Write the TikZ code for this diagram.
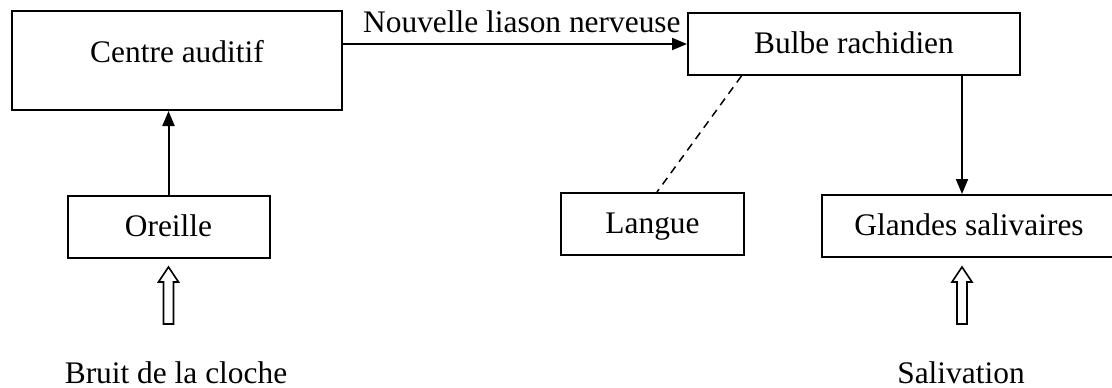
\documentclass[tikz,border=0pt]{standalone}
\usepackage{fontspec}
\setmainfont{Liberation Serif}
\usepackage{tikz}
\usetikzlibrary{arrows.meta,calc,positioning}

% hollow upward arrow, tip at #1
\newcommand{\hollowup}[1]{%
  \draw[hollow] (#1) -- ++(5pt,-7.5pt) -- ++(-2.5pt,0) -- ++(0,-21pt)
    -- ++(-5pt,0) -- ++(0,21pt) -- ++(-2.5pt,0) -- cycle;}

\begin{document}
\begin{tikzpicture}[
  x=0.5pt,y=-0.5pt,
  font=\fontsize{15.7}{19}\selectfont,
  box/.style={draw,line width=1pt,inner sep=0pt,minimum height=31pt,text height=11pt,text depth=2pt},
  txt/.style={inner sep=0pt,anchor=base},
  arrow/.style={-{Triangle[length=7.5pt,width=6pt]},line width=1pt},
  link/.style={dashed,line width=0.75pt,dash pattern=on 4pt off 3pt},
  hollow/.style={draw,fill=white,line width=0.8pt}
]
\useasboundingbox (0,0) rectangle (1112,387);
\node[box,minimum width=165pt,minimum height=49.5pt,text height=25.5pt,text depth=24pt] (centre) at (177,60.5) {Centre auditif};
\node[box,minimum width=101pt] (oreille) at (168.5,227) {Oreille};
\node[box,minimum width=166pt] (bulbe) at (854,44) {Bulbe rachidien};
\node[box,minimum width=91.5pt] (langue) at (652.5,224) {Langue};
\node[box,minimum width=147pt] (glandes) at (969,226) {Glandes salivaires};
\node[txt] (bruit) at (176,383) {Bruit de la cloche};
\node[txt] (salivation) at (961,383) {Salivation};

\draw[arrow] (oreille.north) -- (oreille.north |- centre.south);
\draw[arrow] (centre.east |- bulbe.west) -- node[pos=0.52,above=5pt,inner sep=0pt] (liaison) {Nouvelle liason nerveuse} (bulbe.west);
\draw[arrow] ([xshift=-3.5pt]glandes.north |- bulbe.south) -- ([xshift=-3.5pt]glandes.north);
\draw[link] ($(bulbe.south west)!0.163!(bulbe.south east)$) -- ([xshift=2.25pt]langue.north);

\hollowup{[yshift=-4pt]oreille.south}
\hollowup{[xshift=-3.5pt,yshift=-4.5pt]glandes.south}
\end{tikzpicture}
\end{document}
